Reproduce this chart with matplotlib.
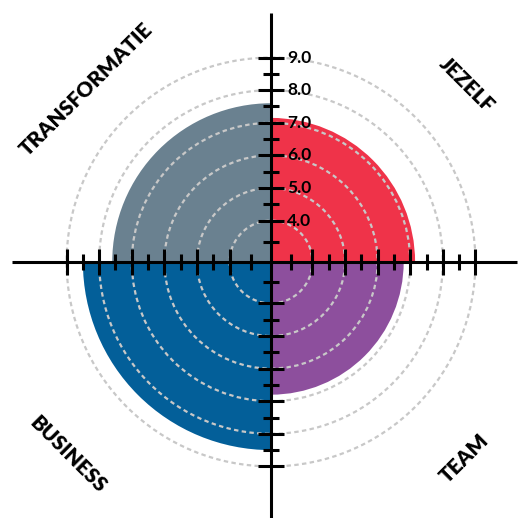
import numpy as np
import matplotlib.pyplot as plt
from matplotlib.patches import Wedge, Circle

# scores per quadrant (counter-clockwise from the top-right)
categories = ["JEZELF", "TRANSFORMATIE", "BUSINESS", "TEAM"]
scores = [7.15, 7.6, 8.5, 6.8]
colors = ["#ef3349", "#6a8190", "#035f99", "#8d4f9d"]

grid_values = [4, 5, 6, 7, 8, 9]
minor_values = [3.35, 4.5, 5.5, 6.5, 7.5, 8.5]
scale_labels = ["4.0", "5.0", "6.0", "7.0", "8.0", "9.0"]

base = 2.73      # value sitting at the centre
px = 32.6        # pixels per score point

plt.rcParams["font.family"] = ["Lato", "DejaVu Sans"]

fig = plt.figure(figsize=(5.18, 5.18), dpi=100)
ax = fig.add_axes([0, 0, 1, 1])
ax.set_xlim(-271 / px, 247 / px)
ax.set_ylim(-256 / px, 262 / px)
ax.axis("off")

# quadrant wedges
for i, (v, c) in enumerate(zip(scores, colors)):
    ax.add_patch(Wedge((0, 0), v - base, 90 * i, 90 * (i + 1), color=c, lw=0, zorder=1))

# dashed rings
for g in grid_values:
    ax.add_patch(Circle((0, 0), g - base, fill=False, ec="#c8c8c8", lw=1.6,
                        ls=(0, (2.0, 1.5)), zorder=2))

# cross
ax.plot([-259 / px, 246 / px], [0, 0], color="k", lw=2.2, zorder=3, solid_capstyle="butt")
ax.plot([0, 0], [-256 / px, 249 / px], color="k", lw=2.2, zorder=3, solid_capstyle="butt")

major = np.array(grid_values) - base
minor = np.array(minor_values) - base
for r, ms in [(major, 18.5), (minor, 12)]:
    both = np.concatenate([r, -r])
    zero = np.zeros_like(both)
    ax.plot(both, zero, ls="none", marker="|", ms=ms, mew=2.2, color="k", zorder=4)
    ax.plot(zero, both, ls="none", marker="_", ms=ms, mew=2.2, color="k", zorder=4)

for g, lab in zip(grid_values, scale_labels):
    ax.text(16 / px, g - base, lab, ha="left", va="center", fontsize=12.5,
            fontweight="bold", zorder=5)

# quadrant titles
title_pos = {
    "JEZELF": (467, 85, -45),
    "TRANSFORMATIE": (86, 89, 45),
    "BUSINESS": (68, 454, -45),
    "TEAM": (464, 458, 45),
}
for name in categories:
    x, y, rot = title_pos[name]
    fig.text(x / 518, 1 - y / 518, name, ha="center", va="center", rotation=rot,
             rotation_mode="anchor", fontsize=15, fontweight="heavy")

fig.savefig("out.png", dpi=100)
